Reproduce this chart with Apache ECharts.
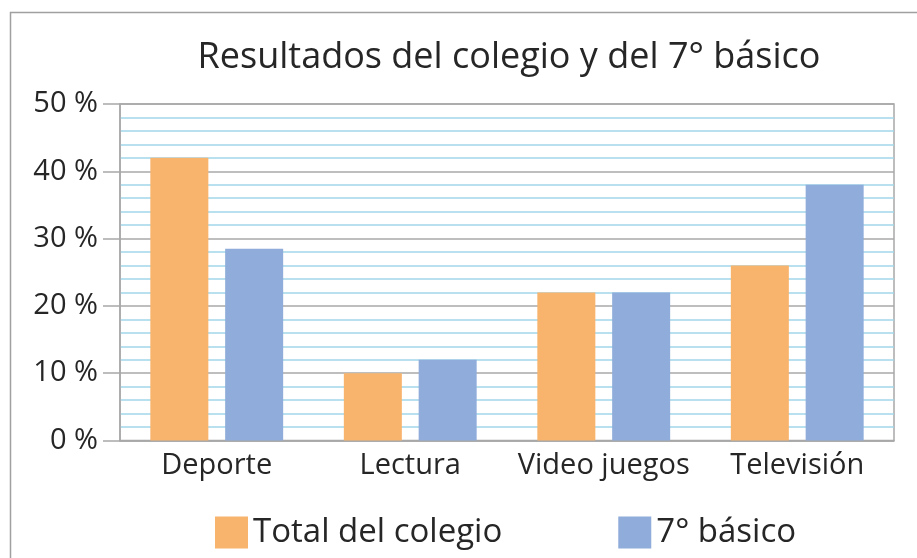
<!DOCTYPE html>
<html>
<head>
<meta charset="utf-8">
<script src="https://cdn.jsdelivr.net/npm/echarts@6/dist/echarts.min.js"></script>
<style>
  html, body { margin: 0; padding: 0; background: #fff; }
  #chart { width: 917px; height: 558px; }
</style>
</head>
<body>
<div id="chart"></div>
<script>
const categories = ["Deporte", "Lectura", "Video juegos", "Televisión"];
const totalColegio = [42, 10, 22, 26];
const septimoBasico = [28.5, 12, 22, 38];
const seriesNames = ["Total del colegio", "7° básico"];

const fontFamily = "Open Sans";
const textColor = "#262626";

const myChart = echarts.init(document.getElementById("chart"));
const option = {
    animation: false,
    title: {
        text: "Resultados del colegio y del 7° básico",
        left: 504,
        textAlign: "center",
        top: 35,
        textStyle: {
            fontFamily: fontFamily,
            fontWeight: "normal",
            fontSize: 36,
            color: textColor
        }
    },
    graphic: [{
        type: "rect",
        shape: { x: 10.5, y: 12.5, width: 920, height: 560 },
        style: { fill: "none", stroke: "#a0a0a0", lineWidth: 1.5 },
        silent: true
    }],
    legend: {
        bottom: 4,
        left: 210,
        itemWidth: 33,
        itemHeight: 32,
        itemGap: 116,
        icon: "rect",
        textStyle: {
            fontFamily: fontFamily,
            fontSize: 33,
            color: textColor
        },
        data: seriesNames
    },
    grid: {
        left: 120,
        right: 23,
        top: 104,
        bottom: 117.5,
        show: true,
        borderColor: "#a8a8a8",
        borderWidth: 1.5
    },
    xAxis: {
        type: "category",
        data: categories,
        axisLine: { lineStyle: { color: "#a8a8a8", width: 1.5 } },
        axisTick: { length: 20, lineStyle: { color: "#a8a8a8", width: 1.5 } },
        axisLabel: {
            interval: 0,
            fontFamily: fontFamily,
            fontSize: 29,
            color: textColor,
            margin: 11
        }
    },
    yAxis: {
        type: "value",
        min: 0,
        max: 50,
        interval: 10,
        axisLine: { show: true, lineStyle: { color: "#a8a8a8", width: 1.5 } },
        axisTick: { show: true, length: 17, lineStyle: { color: "#a8a8a8", width: 1.5 } },
        axisLabel: {
            formatter: "{value} %",
            fontFamily: fontFamily,
            fontSize: 29,
            color: textColor,
            margin: 22
        },
        splitLine: { lineStyle: { color: "#a8a8a8", width: 1.5 } },
        minorTick: { show: false, splitNumber: 5 },
        minorSplitLine: { show: true, lineStyle: { color: "#a3d6ea", width: 1.5 } }
    },
    series: [{
        name: seriesNames[0],
        type: "bar",
        data: totalColegio,
        barWidth: 58,
        barGap: "29%",
        itemStyle: { color: "#F8B36C" }
    }, {
        name: seriesNames[1],
        type: "bar",
        data: septimoBasico,
        barWidth: 58,
        itemStyle: { color: "#8FACDA" }
    }]
};
myChart.setOption(option);
</script>
</body>
</html>
